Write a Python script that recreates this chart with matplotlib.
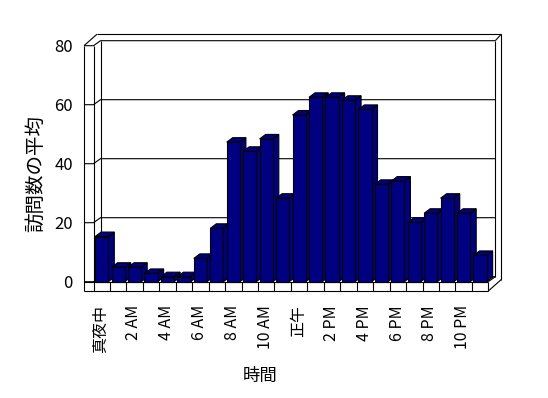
import numpy as np
import matplotlib.pyplot as plt
from matplotlib.patches import Polygon

plt.rcParams['font.family'] = ['Noto Sans CJK JP', 'DejaVu Sans']

# average visits per hour (0:00 .. 23:00)
visits = [15.3, 4.9, 4.9, 2.8, 1.7, 1.7, 7.9, 18.1, 47.3, 44.2, 48.4, 28.3,
          56.5, 62.5, 62.5, 61.5, 58.4, 33.0, 34.1, 20.1, 23.2, 28.3, 23.2, 8.9]
hour_labels = ['真夜中', '2 AM', '4 AM', '6 AM', '8 AM', '10 AM',
               '正午', '2 PM', '4 PM', '6 PM', '8 PM', '10 PM']
yticks = [0, 20, 40, 60, 80]

W, H = 548, 398
PX, PY = 16.45, 2.95      # pixels per category / per value unit
X0, Y0 = 93.5, 281.7      # pixel position of (0, 0)

fig = plt.figure(figsize=(W / 100, H / 100), dpi=100)
ax = fig.add_axes([0, 0, 1, 1])
ax.set_xlim(-X0 / PX, (W - X0) / PX)
ax.set_ylim((Y0 - H) / PY, Y0 / PY)

n = len(visits)
ymax = yticks[-1]
lw = 0.8
bdx, bdy = 6 / PX, 4.5 / PY      # bar depth
wdx, wdy = 7 / PX, 5 / PY        # back wall inner plane
odx, ody = 13 / PX, 11.5 / PY    # back wall outer plane
lwall = 9.5 / PX                 # left wall thickness
fh = 9.3 / PY                    # floor thickness

def line(xs, ys, z=1):
    ax.plot(xs, ys, color='black', lw=lw, zorder=z, solid_capstyle='butt')

# back wall + gridlines
for v in yticks:
    line([-lwall, 0, wdx, n + wdx], [v, v, v + wdy, v + wdy])
line([wdx, wdx], [wdy, ymax + wdy])
line([n + wdx, n + wdx], [wdy, ymax + wdy])
line([-lwall + odx, n + odx], [ymax + ody, ymax + ody])
line([n + odx, n + odx], [-fh + ody, ymax + ody])
line([n + wdx, n + odx], [ymax + wdy, ymax + ody])
line([-lwall, -lwall + odx], [ymax, ymax + ody])

# left wall
line([-lwall, -lwall], [-fh, ymax])
line([0, 0], [0, ymax])

# floor
line([-lwall, n], [-fh, -fh])
line([-lwall, n], [0, 0])
for i in range(n + 1):
    line([i, i], [-fh, 0])
line([n, n + odx], [-fh, -fh + ody])
line([n, n + wdx], [0, wdy])

# bars
navy = '#000080'
bars = ax.bar(np.arange(n) + 0.1, visits, width=0.8, align='edge',
              color=navy, edgecolor='black', linewidth=lw)
for i, (b, v) in enumerate(zip(bars, visits)):
    l, r = i + 0.1, i + 0.9
    top = Polygon([(l, v), (l + bdx, v + bdy), (r + bdx, v + bdy), (r, v)],
                  closed=True, fc=navy, ec='black', lw=lw, zorder=3 + 2 * i)
    side = Polygon([(r, 0), (r + bdx, bdy), (r + bdx, v + bdy), (r, v)],
                   closed=True, fc=navy, ec='black', lw=lw, zorder=3 + 2 * i)
    ax.add_patch(side)
    ax.add_patch(top)
    b.set_zorder(4 + 2 * i)

# axes / labels
for s in ax.spines.values():
    s.set_visible(False)
ax.spines['left'].set_position(('data', -lwall))
ax.spines['bottom'].set_position(('data', -fh))
ax.set_yticks(yticks)
ax.set_yticklabels([str(v) for v in yticks], fontsize=12)
ax.tick_params(axis='y', length=0, pad=8)
ax.set_xticks(np.arange(0, n, 2) + 0.45)
ax.set_xticklabels(hour_labels, rotation=90, fontsize=11.5, va='top')
ax.tick_params(axis='x', length=0, pad=10)

ax.set_ylabel('訪問数の平均', fontsize=14)
ax.yaxis.set_label_coords(46 / W, 1 - 174 / H)
ax.set_xlabel('時間', fontsize=12.5)
ax.xaxis.set_label_coords(260 / W, 1 - 367 / H)

fig.savefig('out.png', dpi=100)
